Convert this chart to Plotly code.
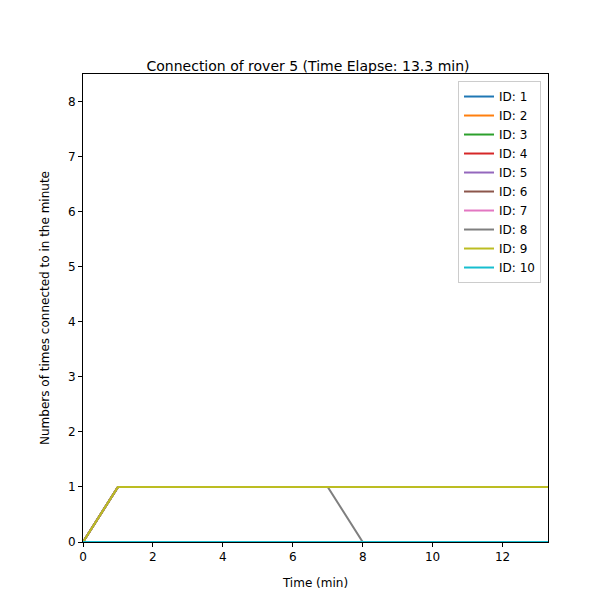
import plotly.graph_objects as go

times = [0, 1, 2, 3, 4, 5, 6, 7, 8, 9, 10, 11, 12, 13, 13.3]
ids = [1, 2, 3, 4, 5, 6, 7, 8, 9, 10]
connected = [0, 1, 1, 1, 1, 1, 1, 1, 1, 1, 1, 1, 1, 1, 1]
dropped = [0, 1, 1, 1, 1, 1, 1, 1, 0, 0, 0, 0, 0, 0, 0]
never = [0] * 15
series = {
    1: connected, 2: connected, 3: connected, 4: connected, 5: never,
    6: connected, 7: connected, 8: dropped, 9: connected, 10: never,
}

colors = ["#1f77b4", "#ff7f0e", "#2ca02c", "#d62728", "#9467bd",
          "#8c564b", "#e377c2", "#7f7f7f", "#bcbd22", "#17becf"]

fig = go.Figure()
for i, rid in enumerate(ids):
    fig.add_trace(go.Scatter(x=times, y=series[rid], mode="lines", name=f"ID: {rid}",
                             line=dict(color=colors[i], width=2)))

axis = dict(showgrid=False, zeroline=False, showline=True, linecolor="black", mirror=True,
            ticks="outside", ticklen=4, tickcolor="black", tickfont=dict(size=12),
            automargin=False)
fig.update_layout(
    width=600, height=600,
    paper_bgcolor="white", plot_bgcolor="white",
    font=dict(family="DejaVu Sans", color="black", size=12),
    margin=dict(l=75, r=60, t=66, b=66),
    title=dict(text="Connection of rover 5 (Time Elapse: 13.3 min)", x=0.5, xanchor="center",
               y=0.903, yanchor="middle", font=dict(size=14)),
    xaxis=dict(axis, range=[0, 13.3], dtick=2, title=dict(text="Time (min)", font=dict(size=12))),
    yaxis=dict(axis, range=[0, 8.5], dtick=1,
               title=dict(text="Numbers of times connected to in the minute", font=dict(size=12))),
    legend=dict(x=0.985, y=0.985, xanchor="right", yanchor="top", bgcolor="white",
                bordercolor="#cccccc", borderwidth=1, font=dict(size=12)),
)
fig.write_html("out.html")
